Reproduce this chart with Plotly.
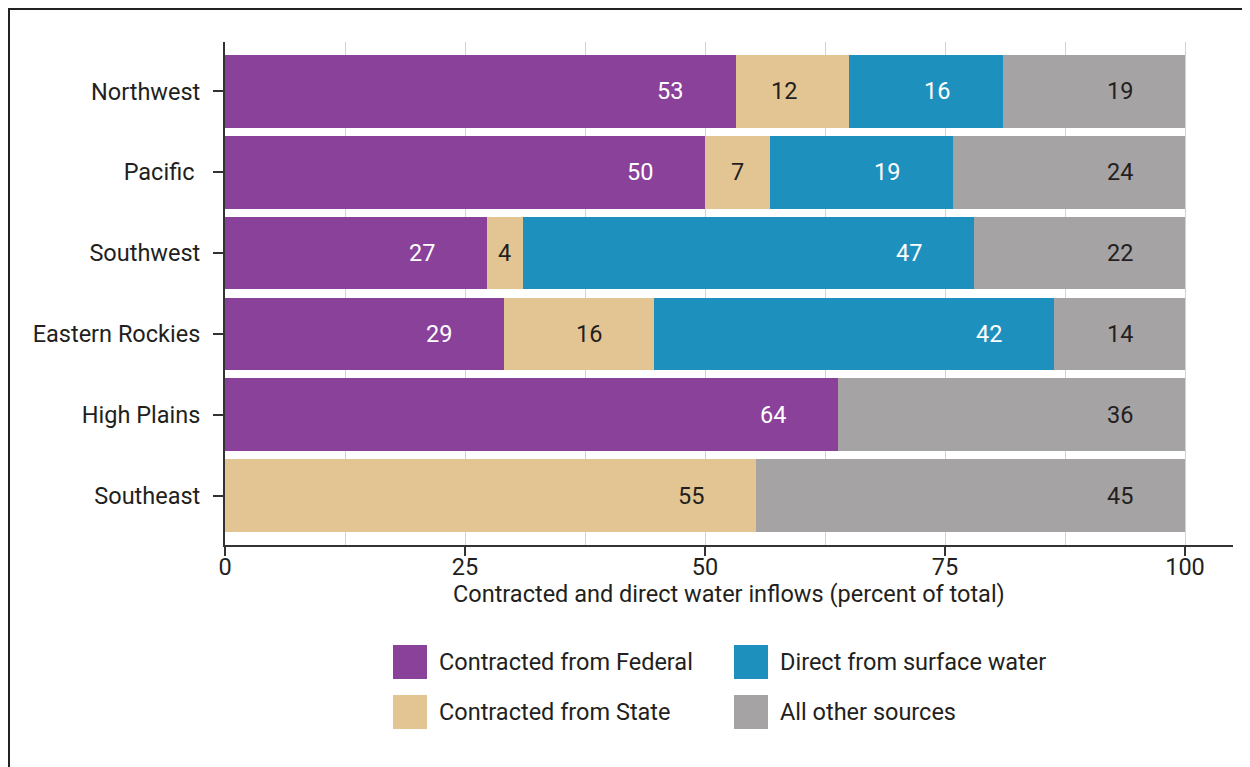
import plotly.graph_objects as go

regions = ["Northwest", "Pacific ", "Southwest", "Eastern Rockies", "High Plains", "Southeast"]
series_names = ["Contracted from Federal", "Contracted from State",
                "Direct from surface water", "All other sources"]
federal = [53.2, 50.0, 27.3, 29.1, 63.9, 0]
state = [11.8, 6.8, 3.7, 15.6, 0, 55.3]
surface = [16.0, 19.0, 47.0, 41.7, 0, 0]
other = [19.0, 24.2, 22.0, 13.6, 36.1, 44.7]
x_ticks = [0, 25, 50, 75, 100]

colors = ["#89419A", "#E3C594", "#1E90BE", "#A5A3A4"]
label_colors = ["white", "#231F20", "white", "#231F20"]
FONT = "Roboto, Arial, sans-serif"
DARK = "#231F20"
FS = 23.5

# page body has an 8px margin; figure occupies page pixels 8..
OFF = 8
W, H = 1242, 759
ML, MT = 225 - OFF, 42 - OFF
PR, PB = 1233 - OFF, 545 - OFF
MR, MB = W - PR, H - PB
PW, PH = PR - ML, PB - MT


def px(x):  # page-pixel x of reference -> paper
    return (x - OFF - ML) / PW


def py(y):  # page-pixel y of reference -> paper
    return (PB - (y - OFF)) / PH


fig = go.Figure()
all_series = [federal, state, surface, other]
for name, vals, col in zip(series_names, all_series, colors):
    fig.add_trace(go.Bar(y=regions, x=vals, name=name, orientation="h",
                         marker=dict(color=col, line=dict(width=0)),
                         showlegend=False, hoverinfo="x+name"))

annotations = []
for i, reg in enumerate(regions):
    cum = 0
    for s, vals in enumerate(all_series):
        v = vals[i]
        start, end = cum, cum + v
        cum = end
        if v <= 0:
            continue
        xpos = end - 6.8 if v >= 10 else (start + end) / 2
        annotations.append(dict(x=xpos, y=reg, xref="x", yref="y", text=str(round(v)),
                                showarrow=False,
                                font=dict(family=FONT, size=FS, color=label_colors[s])))

# axis title
annotations.append(dict(x=0.5, y=py(594), xref="paper", yref="paper",
                        text="Contracted and direct water inflows (percent of total)",
                        showarrow=False, font=dict(family=FONT, size=FS, color=DARK),
                        xanchor="center", yanchor="middle"))

shapes = []
# frame (top and left edges)
shapes.append(dict(type="line", xref="paper", yref="paper", x0=px(8.5), x1=px(1262),
                   y0=py(8.5), y1=py(8.5), line=dict(color="#222", width=3)))
shapes.append(dict(type="line", xref="paper", yref="paper", x0=px(8.5), x1=px(8.5),
                   y0=py(7), y1=py(780), line=dict(color="#222", width=3)))

# legend
legend_items = [(0, 393, 645), (2, 734, 645), (1, 393, 695), (3, 734, 695)]
for s, lx, ly in legend_items:
    shapes.append(dict(type="rect", xref="paper", yref="paper",
                       x0=px(lx), x1=px(lx + 34), y0=py(ly + 34), y1=py(ly),
                       fillcolor=colors[s], line=dict(width=0)))
    annotations.append(dict(x=px(lx + 44), y=py(ly + 17), xref="paper", yref="paper",
                            text=series_names[s], showarrow=False, xanchor="left",
                            yanchor="middle",
                            font=dict(family=FONT, size=FS, color=DARK)))

fig.update_layout(
    width=W, height=H,
    margin=dict(l=ML, r=MR, t=MT, b=MB, pad=0),
    barmode="stack", bargap=0.1,
    plot_bgcolor="white", paper_bgcolor="white",
    font=dict(family=FONT, size=FS, color=DARK),
    annotations=annotations, shapes=shapes,
    xaxis=dict(range=[0, 105], tickvals=x_ticks, ticktext=[str(t) for t in x_ticks],
               showline=True, linecolor="#333", linewidth=2,
               ticks="outside", ticklen=9, tickwidth=2, tickcolor="#333",
               showgrid=True, gridcolor="#D3D3D3", gridwidth=1,
               minor=dict(dtick=12.5, tick0=0, showgrid=True, gridcolor="#D3D3D3",
                          gridwidth=1, ticks=""),
               zeroline=False, ticklabelstandoff=-9,
               tickfont=dict(size=FS, color=DARK, family=FONT)),
    yaxis=dict(range=[5.61, -0.61], categoryorder="array", categoryarray=regions,
               showline=True, linecolor="#333", linewidth=2,
               ticks="outside", ticklen=10, tickwidth=2, tickcolor="#333",
               showgrid=False, zeroline=False, ticklabelstandoff=8,
               tickfont=dict(size=FS, color=DARK, family=FONT)),
)

fig.write_html("out.html")
